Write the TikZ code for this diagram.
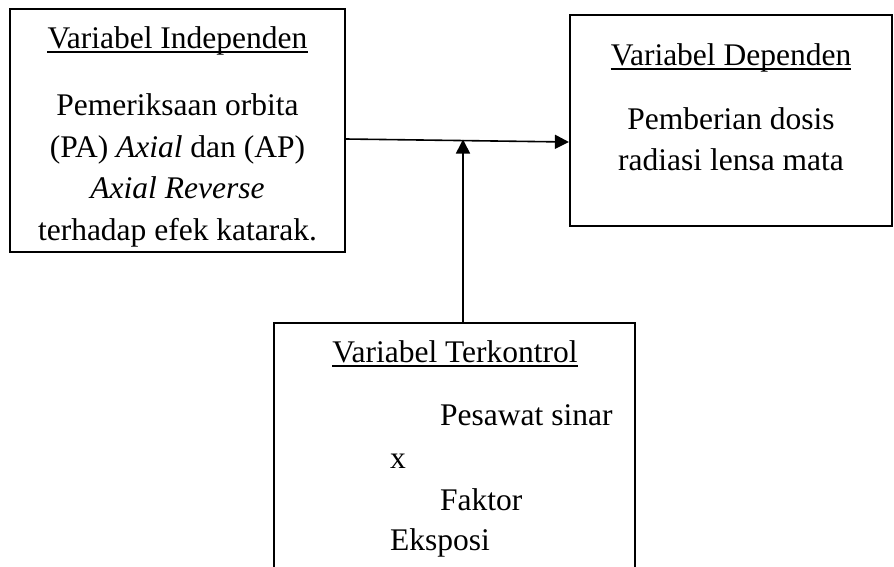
\documentclass[tikz,border=0pt]{standalone}
\usepackage{fontspec}
\setmainfont{Liberation Serif}
\usetikzlibrary{arrows.meta}
\begin{document}
\begin{tikzpicture}[x=1pt,y=-1pt,
  box/.style={draw=black,line width=2.2pt,inner sep=0pt},
  txt/.style={inner sep=0pt,font=\fontsize{31.5}{41.7}\selectfont},
  conn/.style={draw=black,line width=1.6pt,-{Triangle[length=14pt,width=14pt]}},
  uline/.style={draw=black,line width=1.5pt}]
\clip (0,0) rectangle (894,566);
\fill[white] (0,0) rectangle (894,566);
% boxes
\node[box,minimum width=335pt,minimum height=243pt] (ind) at (177.5,130.5) {};
\node[box,minimum width=322pt,minimum height=211pt] (dep) at (731,120.5) {};
\node[box,minimum width=361pt,minimum height=277pt] (ctl) at (454.5,461.5) {};
% left box text
\node[txt,anchor=base] (t1) at (177.5,48) {Variabel Independen};
\draw[uline] ([yshift=-4pt]t1.base west) -- ([yshift=-4pt]t1.base east);
\node[txt,anchor=base] (l1) at (177.5,115) {Pemeriksaan orbita};
\node[txt,anchor=base] (l2) at (177.5,157) {(PA) \textit{Axial} dan (AP)};
\node[txt,anchor=base] (l3) at (177.5,198) {\textit{Axial Reverse}};
\node[txt,anchor=base] (l4) at (177.5,240) {terhadap efek katarak.};
% right box text
\node[txt,anchor=base] (t2) at (731,65) {Variabel Dependen};
\draw[uline] ([yshift=-4pt]t2.base west) -- ([yshift=-4pt]t2.base east);
\node[txt,anchor=base] (r1) at (731,129) {Pemberian dosis};
\node[txt,anchor=base] (r2) at (731,170) {radiasi lensa mata};
% bottom box text
\node[txt,anchor=base] (t3) at (455,362) {Variabel Terkontrol};
\draw[uline] ([yshift=-4pt]t3.base west) -- ([yshift=-4pt]t3.base east);
\node[txt,anchor=base west] (b1) at (440,425) {Pesawat sinar};
\node[txt,anchor=base west] (b2) at (390,468) {x};
\node[txt,anchor=base west] (b3) at (440,510) {Faktor};
\node[txt,anchor=base west] (b4) at (390,550) {Eksposi};
% connectors
\coordinate (m) at (463,139.5);
\draw[conn] ([yshift=-8.5pt]ind.east) -- ([yshift=-21.5pt]dep.west);
\draw[conn] ([xshift=8.5pt]ctl.north) -- (m);
\end{tikzpicture}
\end{document}
